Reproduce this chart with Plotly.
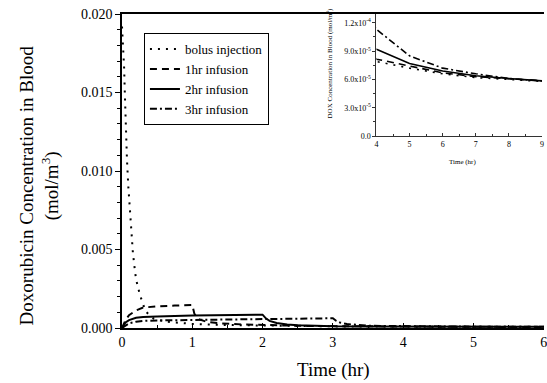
import plotly.graph_objects as go

# ---- data (time in hr, concentration in mol/m^3) ----
t_bolus = [0, 0.02, 0.03, 0.04, 0.055, 0.07, 0.09, 0.11, 0.135, 0.155, 0.18, 0.2, 0.25, 0.3,
           0.35, 0.45, 0.6, 0.8, 1.0, 1.5, 2.0, 2.5, 3.0, 3.5, 4.0, 5.0, 6.0, 7.0, 8.0, 9.0]
c_bolus = [0.0192, 0.0179, 0.0166, 0.0150, 0.0126, 0.0108, 0.0090, 0.0076, 0.0061, 0.0048,
           0.0038, 0.0031, 0.0022, 0.0015, 0.0010, 0.0006, 0.00042, 0.00032, 0.00026, 0.00019,
           0.00015, 0.00012, 0.000105, 0.000092, 0.000079, 0.000072, 0.000066, 0.000062,
           0.000060, 0.000058]

t_1hr = [0, 0.05, 0.1, 0.15, 0.2, 0.3, 0.5, 0.75, 1.0, 1.03, 1.1, 1.2, 1.4, 1.7, 2.0, 2.5,
         3.0, 3.5, 4.0, 5.0, 6.0, 7.0, 8.0, 9.0]
c_1hr = [0, 0.0005, 0.00082, 0.00096, 0.00112, 0.0013, 0.00138, 0.00143, 0.00147, 0.0009,
         0.00055, 0.0004, 0.0003, 0.00023, 0.00018, 0.00014, 0.00012, 0.0001, 0.0000815,
         0.000074, 0.000067, 0.000063, 0.000061, 0.0000585]

t_2hr = [0, 0.05, 0.1, 0.15, 0.2, 0.3, 0.5, 1.0, 1.5, 2.0, 2.05, 2.1, 2.2, 2.35, 2.5, 2.75,
         3.0, 3.5, 4.0, 5.0, 6.0, 7.0, 8.0, 9.0]
c_2hr = [0, 0.00035, 0.0005, 0.0006, 0.00065, 0.0007, 0.00074, 0.00079, 0.00082, 0.00085,
         0.0006, 0.00045, 0.00032, 0.00022, 0.00017, 0.00013, 0.00011, 0.0001, 0.000092,
         0.000077, 0.000069, 0.000064, 0.000061, 0.0000585]

t_3hr = [0, 0.1, 0.2, 0.3, 0.5, 1.0, 1.5, 2.0, 2.5, 3.0, 3.05, 3.1, 3.2, 3.35, 3.5, 3.75,
         4.0, 5.0, 6.0, 7.0, 8.0, 9.0]
c_3hr = [0, 0.0003, 0.0004, 0.00045, 0.00048, 0.00052, 0.00055, 0.00057, 0.00059, 0.00062,
         0.00045, 0.00035, 0.00025, 0.00018, 0.00015, 0.00013, 0.000113, 0.000085, 0.000072,
         0.000066, 0.000061, 0.0000585]

series = [
    ("bolus injection", t_bolus, c_bolus, "2px,6px", 2),
    ("1hr infusion", t_1hr, c_1hr, "7px,5px", 2),
    ("2hr infusion", t_2hr, c_2hr, "solid", 2),
    ("3hr infusion", t_3hr, c_3hr, "7px,3px,2px,3px", 2),
]

main_xticks = [0, 1, 2, 3, 4, 5, 6]
inset_xticks = [4, 5, 6, 7, 8, 9]
inset_yticks = [0, 3e-5, 6e-5, 9e-5, 1.2e-4]
inset_yticktext = ["0.0", "3.0x10<sup>-5</sup>", "6.0x10<sup>-5</sup>",
                   "9.0x10<sup>-5</sup>", "1.2x10<sup>-4</sup>"]

FONT = "Liberation Serif, Times New Roman, serif"

fig = go.Figure()
for name, t, c, dash, w in series:
    fig.add_trace(go.Scatter(x=t, y=c, mode="lines", name=name,
                             line=dict(color="black", dash=dash, width=w),
                             xaxis="x", yaxis="y"))
for name, t, c, dash, w in series:
    fig.add_trace(go.Scatter(x=t, y=c, mode="lines", name=name, showlegend=False,
                             line=dict(color="black", dash=dash, width=1.6),
                             xaxis="x2", yaxis="y2"))

fig.update_layout(
    width=547, height=383,
    margin=dict(l=122, r=0, t=14, b=55),
    paper_bgcolor="white", plot_bgcolor="white",
    font=dict(family=FONT, color="black", size=14),
    xaxis=dict(domain=[0, 1], range=[0, 6.004], tickvals=main_xticks,
               ticklabeloverflow="allow",
               showgrid=False, zeroline=False,
               showline=True, linecolor="black", linewidth=1.5, mirror=True,
               ticks="inside", ticklen=5, tickcolor="black", tickwidth=1,
               minor=dict(dtick=0.5, ticks="inside", ticklen=3, tickcolor="black"),
               tickfont=dict(size=14)),
    yaxis=dict(domain=[0, 1], range=[0, 0.020], dtick=0.005, tickformat=".3f",
               showgrid=False, zeroline=False, showline=True, linecolor="black",
               linewidth=1.5, ticks="outside", ticklen=5, tickcolor="black",
               minor=dict(dtick=0.001, ticks="outside", ticklen=3, tickcolor="black"),
               tickfont=dict(size=14)),
    xaxis2=dict(domain=[0.603, 0.996], anchor="y2", range=[4, 9.01],
                tickvals=inset_xticks, ticklabeloverflow="allow",
                showgrid=False, zeroline=False, showline=True, linecolor="#333",
                linewidth=1, ticks="inside", ticklen=3, tickcolor="#333",
                minor=dict(dtick=0.5, ticks="inside", ticklen=2, tickcolor="#333"),
                tickfont=dict(size=8)),
    yaxis2=dict(domain=[0.611, 1.0], anchor="x2", range=[0, 1.293e-4],
                tickvals=inset_yticks, ticktext=inset_yticktext,
                showgrid=False, zeroline=False, showline=True, linecolor="#333",
                linewidth=1, ticks="outside", ticklen=3, tickcolor="#333",
                minor=dict(dtick=1.5e-5, ticks="outside", ticklen=2, tickcolor="#333"),
                tickfont=dict(size=8)),
    legend=dict(x=0.052, y=0.939, xanchor="left", yanchor="top",
                bgcolor="white", bordercolor="black", borderwidth=1,
                font=dict(size=13), tracegroupgap=0),
    showlegend=True,
)

annotations = [
    dict(text="Doxorubicin Concentration in Blood<br>(mol/m<sup>3</sup>)",
         x=-0.196, y=0.455, xref="paper", yref="paper", textangle=-90,
         showarrow=False, font=dict(size=19), xanchor="center", yanchor="middle"),
    dict(text="Time (hr)", x=0.5, y=-0.134, xref="paper", yref="paper",
         showarrow=False, font=dict(size=19), xanchor="center", yanchor="middle"),
    dict(text="DOX Concentration in Blood (mol/m<sup>3</sup>)", x=0.494, y=0.844,
         xref="paper", yref="paper", textangle=-90, showarrow=False,
         font=dict(size=7), xanchor="center", yanchor="middle"),
    dict(text="Time (hr)", x=0.807, y=0.530, xref="paper", yref="paper",
         showarrow=False, font=dict(size=7), xanchor="center", yanchor="middle"),
]
fig.update_layout(annotations=annotations)

fig.write_html("out.html")
